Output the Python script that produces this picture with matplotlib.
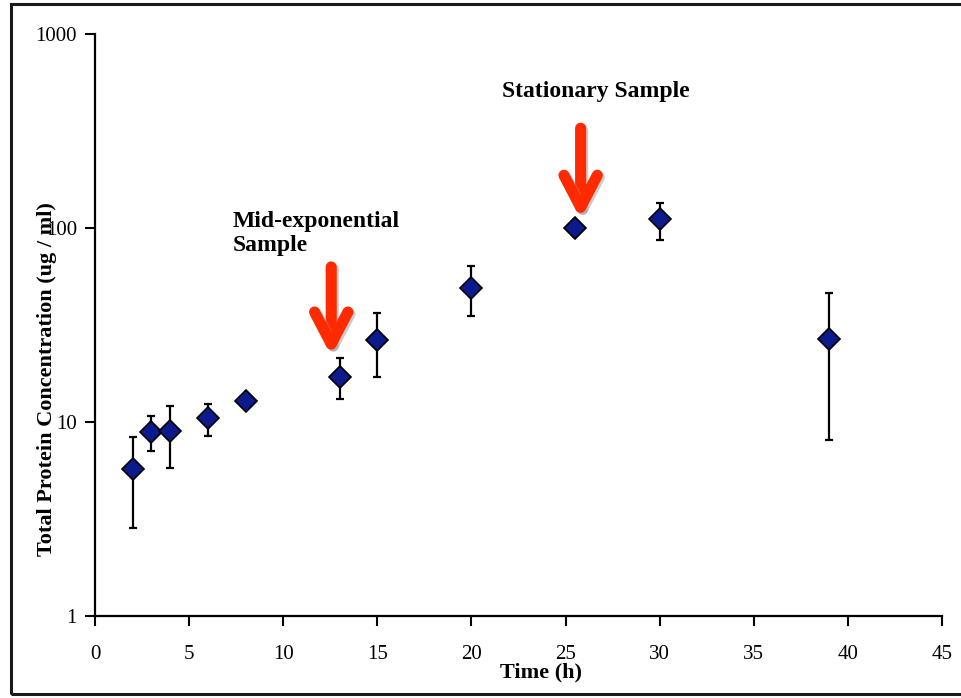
import matplotlib
matplotlib.use("Agg")
import matplotlib.pyplot as plt
from matplotlib.patches import Rectangle
import matplotlib.patheffects as pe
import numpy as np

plt.rcParams['font.family'] = ['Liberation Serif', 'DejaVu Serif']

# Data
time_h = [2, 3, 4, 6, 8, 13, 15, 20, 25.5, 30, 39]
protein = [5.7, 8.9, 9.0, 10.5, 12.8, 17.1, 26.5, 49.0, 100, 111, 26.8]
err_upper = [8.4, 10.7, 12.1, 12.4, 12.8, 21.4, 36.5, 63.7, 100, 134, 46.2]
err_lower = [2.85, 7.1, 5.8, 8.5, 12.8, 13.1, 17.1, 35.2, 100, 87, 8.1]
has_err = [True, True, True, True, False, True, True, True, False, True, True]

x_ticks = [0, 5, 10, 15, 20, 25, 30, 35, 40, 45]
y_ticks = [1, 10, 100, 1000]
y_ticklabels = ['1', '10', '100', '1000']

# Annotations: (arrow x, arrow tail y, arrow tip y)
arrow_mid = (12.55, 63, 21.9)
arrow_stat = (25.8, 327, 111)
label_mid = (7.33, 122, "Mid-exponential\nSample")
label_stat = (21.6, 473, "Stationary Sample")

fig = plt.figure(figsize=(9.62, 6.98), dpi=100)
ax = fig.add_axes([95/962, 1-616/698, (942-95)/962, (616-34)/698])

# border frame
fig.patches.append(Rectangle((11/962, 1-694/698), 1.2, (694-4)/698, transform=fig.transFigure,
                             fill=False, edgecolor='#1a1a1a', linewidth=2.2, clip_on=False))

x = np.array(time_h)
y = np.array(protein)
up = np.array(err_upper) - y
lo = y - np.array(err_lower)
mask = np.array(has_err)
ax.errorbar(x[mask], y[mask], yerr=[lo[mask], up[mask]], fmt='none', ecolor='black',
            elinewidth=1.6, capsize=3.2, capthick=1.6, zorder=2)
ax.plot(x, y, linestyle='none', marker='D', markersize=11, markerfacecolor='#0d1a8c',
        markeredgecolor='black', markeredgewidth=1.2, zorder=3)

ax.set_yscale('log')
ax.set_xlim(0, 45)
ax.set_ylim(1, 1000)
ax.set_xticks(x_ticks)
ax.set_xticklabels([str(t) for t in x_ticks])
ax.set_yticks(y_ticks)
ax.set_yticklabels(y_ticklabels)
ax.yaxis.set_minor_locator(matplotlib.ticker.NullLocator())
ax.tick_params(axis='both', labelsize=15, width=1.5, length=7, direction='out', color='black')
ax.tick_params(axis='x', pad=14)
ax.tick_params(axis='y', pad=6)
for s in ['top', 'right']:
    ax.spines[s].set_visible(False)
for s in ['left', 'bottom']:
    ax.spines[s].set_linewidth(1.6)

ax.set_xlabel('Time (h)', fontsize=16, fontweight='bold')
ax.xaxis.set_label_coords(0.526, -0.08)
ax.set_ylabel('Total Protein Concentration (ug / ml)', fontsize=16, fontweight='bold')
ax.yaxis.set_label_coords(-0.045, 0.407)

red = '#ff2a00'
shadow = [pe.SimpleLineShadow(offset=(1.5, -1.5), shadow_color='#999999', alpha=0.5), pe.Normal()]
for (ax_x, tail, tip) in [arrow_mid, arrow_stat]:
    ax.annotate('', xy=(ax_x, tip), xytext=(ax_x, tail),
                arrowprops=dict(arrowstyle='->,head_length=2.3,head_width=1.2', lw=8,
                                color=red, capstyle='round', joinstyle='round',
                                shrinkA=0, shrinkB=0, path_effects=shadow),
                zorder=4)

ax.text(label_mid[0], label_mid[1], label_mid[2], fontsize=17, fontweight='bold',
        ha='left', va='top', linespacing=1.15)
ax.text(label_stat[0], label_stat[1], label_stat[2], fontsize=17, fontweight='bold',
        ha='left', va='baseline')

fig.savefig('out.png', dpi=100)
